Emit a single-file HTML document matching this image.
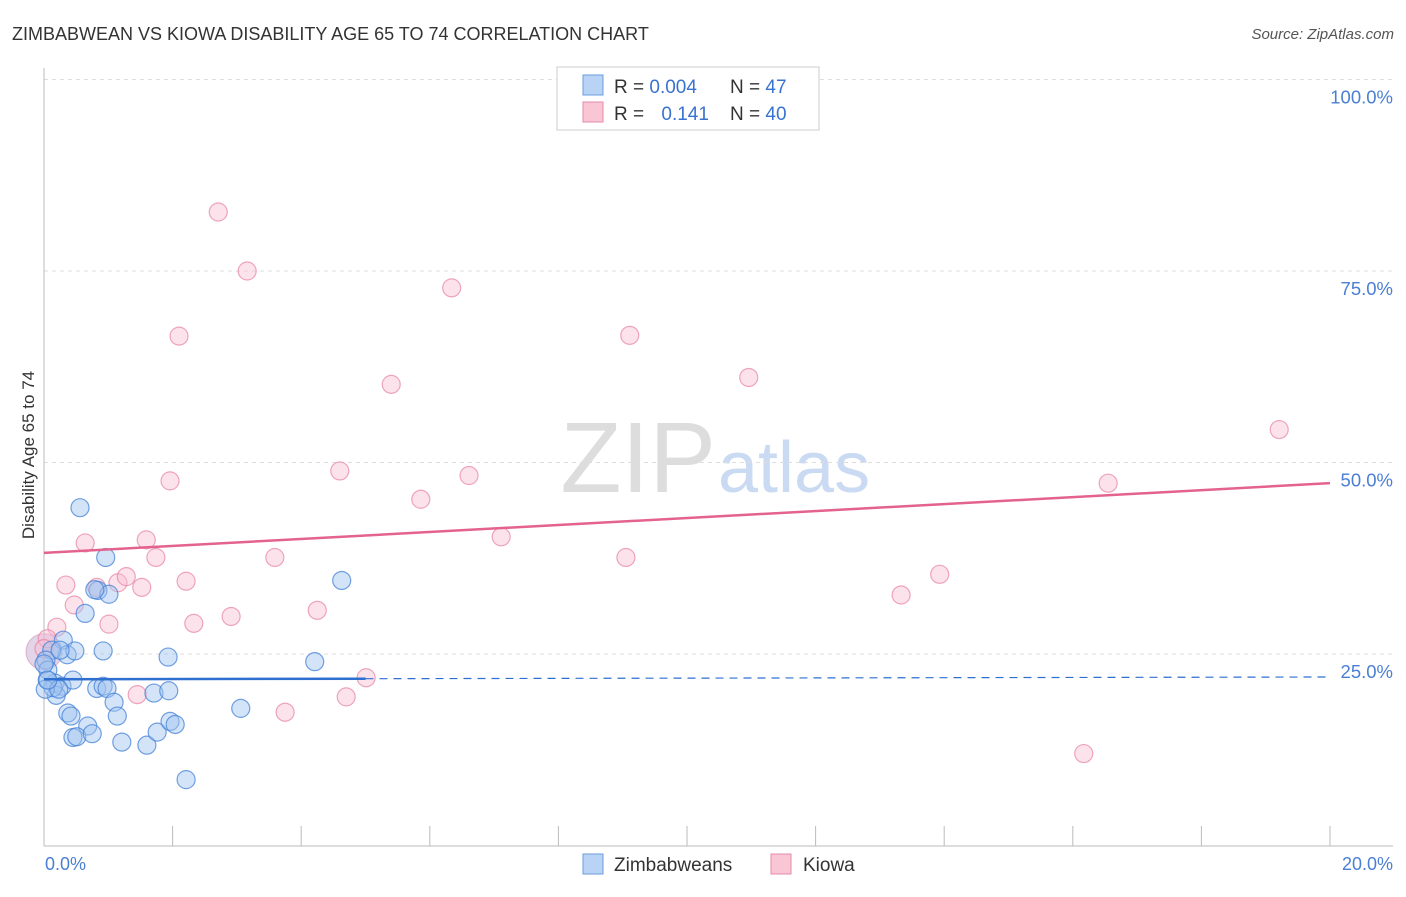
<!DOCTYPE html>
<html><head><meta charset="utf-8"><style>
body{margin:0;background:#fff;font-family:"Liberation Sans",sans-serif}
svg text{font-family:"Liberation Sans",sans-serif}
</style></head><body>
<svg id="c" width="1406" height="892" xmlns="http://www.w3.org/2000/svg">
<text x="12" y="40" font-size="18" fill="#333">ZIMBABWEAN VS KIOWA DISABILITY AGE 65 TO 74 CORRELATION CHART</text>
<text x="1394" y="39" font-size="15" fill="#555" font-style="italic" text-anchor="end">Source: ZipAtlas.com</text>
<text x="716" y="492" font-size="100" fill="#ddd" text-anchor="end" font-family="Liberation Serif">ZIP</text>
<text x="718" y="492" font-size="72" fill="#c9daf2">atlas</text>
<g id="grid"></g>
<line x1="44" y1="68" x2="44" y2="846" stroke="#bbb"/>
<line x1="44" y1="846" x2="1393" y2="846" stroke="#bbb"/>
<g id="xt"></g>
<text x="34" y="455" font-size="17" fill="#333" transform="rotate(-90 34 455)" text-anchor="middle">Disability Age 65 to 74</text>
<text x="45" y="870" font-size="18" fill="#4a7fd4">0.0%</text>
<text x="1393" y="870" font-size="18" fill="#4a7fd4" text-anchor="end">20.0%</text>
<g id="pts"></g>
<g id="lines"></g>
<g>
<rect x="557" y="67" width="262" height="63" fill="#fff" stroke="#ccc"/>
<rect x="583" y="75" width="20" height="20" fill="#b9d3f5" stroke="#6a9de0"/>
<rect x="583" y="102" width="20" height="20" fill="#f9c6d6" stroke="#e78aa8"/>
<text x="614" y="93" font-size="19" fill="#333">R = <tspan fill="#3a72d0">0.004</tspan></text>
<text x="730" y="93" font-size="19" fill="#333">N = <tspan fill="#3a72d0">47</tspan></text>
<text x="614" y="120" font-size="19" fill="#333">R = <tspan fill="#3a72d0" dx="12">0.141</tspan></text>
<text x="730" y="120" font-size="19" fill="#333">N = <tspan fill="#3a72d0">40</tspan></text>
</g>
<g><rect x="583" y="854" width="20" height="20" fill="#b9d3f5" stroke="#6a9de0"/><text x="614" y="871" font-size="19" fill="#333">Zimbabweans</text></g>
<g><rect x="771" y="854" width="20" height="20" fill="#f9c6d6" stroke="#e78aa8"/><text x="803" y="871" font-size="19" fill="#333">Kiowa</text></g>
</svg>
<script>
const yTicks=[25,50,75,100];
const yTickLabels=["25.0%","50.0%","75.0%","100.0%"];
const blueX=[0.56,0.96,0.64,0.84,1.01,0.3,0.36,0.48,0.92,0.12,0.03,0.06,0.17,0.28,0.45,0.05,0.19,0.82,0.92,0.98,1.93,1.71,1.94,1.09,0.37,0.42,0.68,1.14,0.45,0.51,0.75,1.21,1.6,1.76,1.96,2.04,2.21,3.06,4.21,4.63,0.14,0.02,0.23,0.0,0.25,0.79,0.06];
const blueY=[44.1,37.6,30.3,33.3,32.8,26.8,24.9,25.4,25.4,25.5,24.2,22.9,21.2,20.8,21.6,21.6,19.6,20.5,20.8,20.5,24.6,19.9,20.2,18.7,17.3,16.9,15.6,16.9,14.1,14.2,14.6,13.5,13.1,14.8,16.2,15.8,8.6,17.9,24.0,34.6,20.6,20.4,20.4,23.7,25.5,33.4,21.6];
const pinkX=[2.71,3.16,2.1,6.34,9.11,5.4,10.96,19.21,1.96,4.6,6.61,5.86,16.55,0.64,1.59,1.74,7.11,3.59,9.05,0.34,0.82,1.15,1.28,1.52,2.21,13.93,13.33,0.47,4.25,2.91,1.01,2.33,0.2,5.01,4.7,1.45,3.75,16.17,0.05,0.0];
const pinkY=[82.7,75.0,66.5,72.8,66.6,60.2,61.1,54.3,47.6,48.9,48.3,45.2,47.3,39.5,39.9,37.6,40.3,37.6,37.6,34.0,33.7,34.3,35.1,33.7,34.5,35.4,32.7,31.4,30.7,29.9,28.9,29.0,28.5,21.9,19.4,19.7,17.4,12.0,27.0,25.7];
const pinkTrend=[38.2,47.3];
const blueTrend=[21.7,22.0];
const X=v=>44+v*64.3, Y=v=>845.5-v*7.66;
const NS="http://www.w3.org/2000/svg";
function mk(t,a,p){const e=document.createElementNS(NS,t);for(const k in a)e.setAttribute(k,a[k]);p.appendChild(e);return e;}
const g=document.getElementById('grid');
yTicks.forEach((t,i)=>{
 const l=mk('line',{x1:44,x2:1393,y1:Y(t),y2:Y(t),stroke:'#ddd','stroke-dasharray':'4,4'},g);
 
 
 const tx=mk('text',{x:1393,y:Y(t)+24,'font-size':18.5,fill:'#4a7fd4','text-anchor':'end'},g);
 tx.textContent=yTickLabels[i];
 
 
});
const xt=document.getElementById('xt');
for(let i=1;i<=10;i++){
 const l=mk('line',{x1:X(i*2),x2:X(i*2),y1:826,y2:846,stroke:'#bbb'},xt);
 
 
}
const p=document.getElementById('pts');
const big=mk('circle',{cx:X(0),cy:Y(25.3),r:18,fill:'rgba(200,170,210,0.5)',stroke:'rgba(200,140,180,0.6)'},p);


pinkX.forEach((x,i)=>{
 const c=mk('circle',{cx:X(x),cy:Y(pinkY[i]),r:9,fill:'rgba(249,190,210,0.45)',stroke:'rgba(231,130,165,0.7)','stroke-width':1.2},p);
 
 
});
blueX.forEach((x,i)=>{
 const c=mk('circle',{cx:X(x),cy:Y(blueY[i]),r:9,fill:'rgba(160,195,240,0.45)',stroke:'rgba(70,130,215,0.75)','stroke-width':1.2},p);
 
 
});
const L=document.getElementById('lines');
const pl=mk('line',{x1:X(0),y1:Y(pinkTrend[0]),x2:X(20),y2:Y(pinkTrend[1]),stroke:'#e4628e','stroke-width':2.5},L);


const bm=blueTrend[0]+(blueTrend[1]-blueTrend[0])*(5/20);
const bl=mk('line',{x1:X(0),y1:Y(blueTrend[0]),x2:X(5),y2:Y(bm),stroke:'#2e6fd0','stroke-width':2.5},L);


const bd=mk('line',{x1:X(5),y1:Y(bm),x2:X(20),y2:Y(blueTrend[1]),stroke:'#2e6fd0','stroke-width':1.2,'stroke-dasharray':'8,6'},L);


</script>
</body></html>
